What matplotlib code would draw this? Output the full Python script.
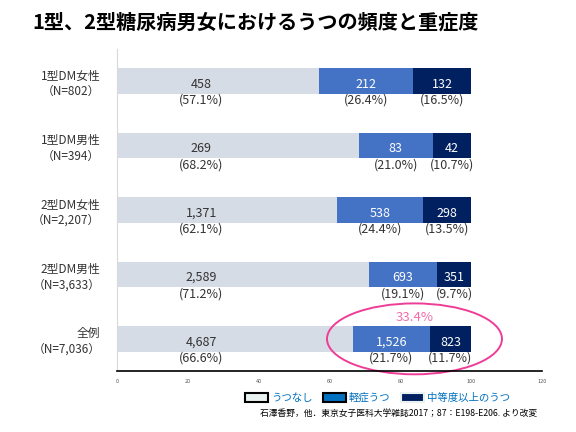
import matplotlib
matplotlib.use("Agg")
from matplotlib import pyplot
from matplotlib.patches import Ellipse, Patch

pyplot.rcParams["font.family"] = ["Noto Sans CJK JP", "DejaVu Sans"]

groups = ["1型DM女性\n（N=802）", "1型DM男性\n（N=394）", "2型DM女性\n（N=2,207）",
          "2型DM男性\n（N=3,633）", "全例\n（N=7,036）"]
none_counts = ["458", "269", "1,371", "2,589", "4,687"]
mild_counts = ["212", "83", "538", "693", "1,526"]
severe_counts = ["132", "42", "298", "351", "823"]
none_pct = [57.1, 68.2, 62.1, 71.2, 66.6]
mild_pct = [26.4, 21.0, 24.4, 19.1, 21.7]
severe_pct = [16.5, 10.7, 13.5, 9.7, 11.7]
series_names = ["うつなし", "軽症うつ", "中等度以上のうつ"]
ticks = [0, 20, 40, 60, 80, 100, 120]

figure = pyplot.figure(figsize=(5.76, 4.32), dpi=100)
ax = figure.add_axes([0.203, 0.141, 0.738, 0.746])

colours = ["#D6DCE5", "#4472C4", "#002060"]
y = list(range(len(groups)))
left = [0] * len(groups)
for k, (pct, counts, colour, text_colour) in enumerate([
    (none_pct, none_counts, colours[0], "#333333"),
    (mild_pct, mild_counts, colours[1], "white"),
    (severe_pct, severe_counts, colours[2], "white"),
]):
    ax.barh(y, pct, left=left, height=0.4, color=colour)
    for i in range(len(groups)):
        # the labels of the first segment sit at a fixed spot, not centred
        centre = 23.8 if k == 0 else left[i] + pct[i] / 2
        ax.text(centre, y[i] + 0.05, counts[i], ha="center", va="center",
                fontsize=9, color=text_colour)
        ax.text(centre, y[i] + 0.2, f"({pct[i]:.1f}%)", ha="center", va="top",
                fontsize=9, color="#333333")
    left = [left[i] + pct[i] for i in range(len(groups))]

# highlight of moderate + severe in the total row
total = mild_pct[-1] + severe_pct[-1]
ax.add_patch(Ellipse((84.0, 4.0), 49.4, 1.1, fill=False, edgecolor="#EE3D96",
                     linewidth=1.4, clip_on=False))
ax.text(84.0, 3.67, f"{total:.1f}%", ha="center", va="center",
        fontsize=9.5, color="#F06EAA")

ax.set_xlim(0, 120)
ax.set_ylim(4.5, -0.5)
ax.set_xticks(ticks)
ax.set_xticklabels([str(t) for t in ticks], fontsize=4, color="#595959")
ax.tick_params(axis="x", length=0, pad=6)
ax.set_yticks(y)
ax.set_yticklabels(groups, fontsize=8.5, color="#333333", linespacing=1.25)
ax.tick_params(axis="y", length=0, pad=12)
for label in ax.get_yticklabels():
    label.set_horizontalalignment("right")
    label.set_multialignment("right")
ax.spines["top"].set_visible(False)
ax.spines["right"].set_visible(False)
ax.spines["left"].set_color("#D9D9D9")
ax.spines["bottom"].set_color("black")
ax.spines["bottom"].set_linewidth(1.2)

handles = [
    Patch(facecolor="#EAF1F1", edgecolor="black", linewidth=1.5),
    Patch(facecolor="#0070C0", edgecolor="black", linewidth=1.5),
    Patch(facecolor="#002060", edgecolor="#EAF1F1", linewidth=1.5),
]
legend = figure.legend(handles, series_names, loc="center", bbox_to_anchor=(0.655, 0.079),
                       ncol=3, frameon=False, fontsize=7.5, handlelength=2.2,
                       handleheight=0.9, columnspacing=1.0, handletextpad=0.3)
for text in legend.get_texts():
    text.set_color("#0070C0")

figure.text(0.932, 0.044, "石澤香野，他．東京女子医科大学雑誌2017；87：E198-E206. より改変",
            ha="right", va="center", fontsize=6.3, color="black")
figure.text(0.057, 0.949, "1型、2型糖尿病男女におけるうつの頻度と重症度",
            ha="left", va="center", fontsize=14.5, fontweight="bold", color="black")

pyplot.savefig("out.png", dpi=100)
